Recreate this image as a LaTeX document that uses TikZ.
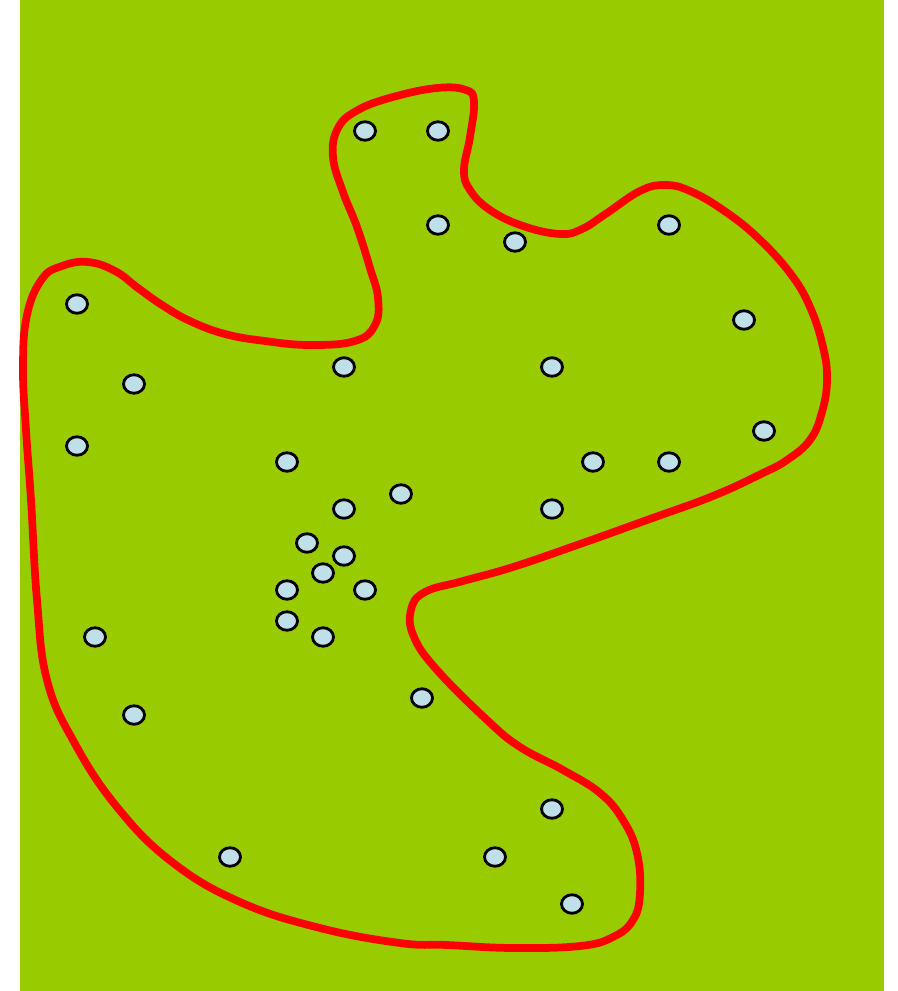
\documentclass[tikz,border=0pt]{standalone}
\usepackage{tikz}
\usetikzlibrary{shapes.geometric}
\definecolor{fondo}{HTML}{99CC00}
\definecolor{punto}{HTML}{BFE0E8}
\tikzset{
  pto/.style={ellipse,draw=black,fill=punto,line width=0.8pt,minimum width=0.21cm,minimum height=0.185cm,inner sep=0pt},
  borde/.style={red,line width=2.2pt,line join=round}
}
\begin{document}
\begin{tikzpicture}[x=0.01cm,y=-0.01cm]
  % fondo
  \useasboundingbox (0,0) rectangle (897,991);
  \fill[white] (0,0) rectangle (897,991);
  \fill[fondo] (20,0) rectangle (884,991);
  % contorno
  \draw[borde] plot[smooth cycle,tension=0.7] coordinates {
    (23,367) (27,315) (42,279) (62,266) (88,262) (115,271) (138,288) (162,305)
    (190,321) (225,334) (265,341) (310,345) (355,341) (375,325) (378,298) (370,268)
    (357,227) (343,192) (333,157) (338,128) (358,110) (393,97) (437,88) (466,90)
    (474,102) (470,137) (464,170) (470,190) (490,210) (523,226) (560,234) (582,229)
    (607,213) (640,191) (665,185) (690,191) (723,210) (757,237) (790,273) (810,307)
    (823,347) (827,380) (822,412) (810,440) (787,460) (763,473) (713,496) (647,520)
    (580,544) (513,567) (463,581) (425,592) (411,610) (414,637) (437,670) (487,720)
    (520,747) (563,770) (600,793) (623,820) (637,853) (640,893) (633,920) (613,937)
    (580,946) (513,948) (447,945) (400,943) (320,928) (240,902) (172,862) (117,807)
    (74,742) (47,680) (37,600) (31,500) (26,430)};
  % puntos
  \foreach \px/\py [count=\i] in {365/131,438/131,438/225,515/242,669/225,77/304,744/320,
      134/384,344/367,552/367,77/446,764/431,287/462,593/462,669/462,401/494,
      344/509,552/509,307/543,344/556,323/573,287/590,365/590,287/621,323/637,
      95/637,422/698,134/715,552/809,230/857,495/857,572/904}
    \node[pto] (p\i) at (\px,\py) {};
\end{tikzpicture}
\end{document}
